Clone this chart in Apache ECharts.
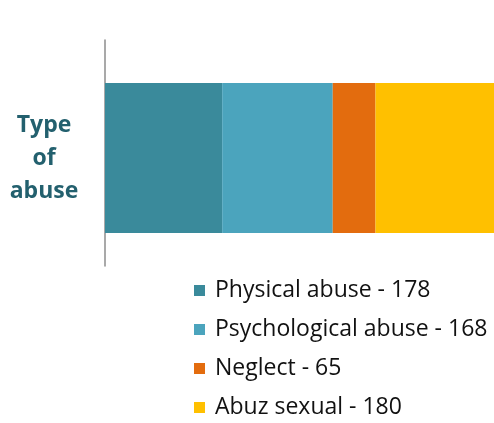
<!DOCTYPE html>
<html><head><meta charset="utf-8">
<script src="https://cdn.jsdelivr.net/npm/echarts@6/dist/echarts.min.js"></script>
<style>html,body{margin:0;padding:0;background:#fff}#c{width:494px;height:423px}</style>
</head><body><div id="c"></div>
<script>
const categories = ['Type\nof\nabuse'];
const seriesNames = ['Physical abuse', 'Psychological abuse', 'Neglect', 'Abuz sexual'];
const seriesValues = [178, 168, 65, 180];
const colors = ['#3A8A9B', '#4BA4BD', '#E36C0E', '#FFC000'];
const total = seriesValues.reduce((a, b) => a + b, 0);

const chart = echarts.init(document.getElementById('c'));
chart.setOption({
  animation: false,
  color: colors,
  grid: [
    { left: 105, top: 40, width: 389, height: 226 },
    { left: 105, top: 83, width: 389, height: 150 }
  ],
  legend: {
    orient: 'vertical', left: 194, top: 279, height: 144, padding: 0, itemGap: 16, itemWidth: 11, itemHeight: 11,
    icon: 'rect',
    textStyle: { fontFamily: 'Open Sans', fontSize: 23, lineHeight: 22, color: '#111', padding: [0, 0, 0, 5] },
    formatter: name => name + ' - ' + seriesValues[seriesNames.indexOf(name)],
    data: seriesNames
  },
  xAxis: [
    { gridIndex: 0, type: 'value', min: 0, max: total, show: false },
    { gridIndex: 1, type: 'value', min: 0, max: total, show: false }
  ],
  yAxis: [
    { gridIndex: 0, type: 'category', data: [''], axisLine: { show: true, lineStyle: { color: '#8C8C8C', width: 1.5 } },
      axisTick: { show: false }, axisLabel: { show: false } },
    { gridIndex: 1, type: 'category', data: categories, axisLine: { show: false }, axisTick: { show: false },
      axisLabel: { margin: 61, fontFamily: 'Open Sans', fontWeight: 'bold', fontSize: 23, lineHeight: 33, color: '#23606E', align: 'center' } }
  ],
  series: seriesNames.map((n, i) => ({
    name: n, type: 'bar', stack: 'total', xAxisIndex: 1, yAxisIndex: 1,
    barWidth: '100%', data: [seriesValues[i]]
  }))
});
</script></body></html>
